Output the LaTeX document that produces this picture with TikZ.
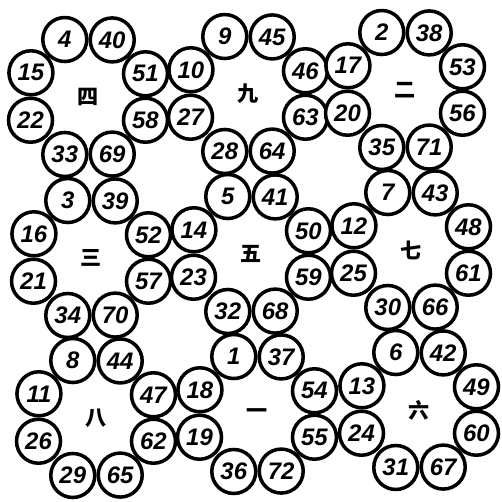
\documentclass[tikz,border=0pt]{standalone}
\usepackage{fontspec}
\newfontfamily\numfont{Liberation Sans}
\newfontfamily\cjkfont{Noto Sans CJK SC}

\begin{document}
\begin{tikzpicture}[
    x=0.05cm, y=-0.05cm,
    ring/.style={circle, minimum size=6.2cm, inner sep=0pt, outer sep=0pt,
        font=\cjkfont\bfseries\fontsize{30}{30}\selectfont},
    disc/.style={circle, draw, line width=5pt, minimum size=2.2cm, inner sep=0pt,
        fill=white, font=\numfont\bfseries\itshape\fontsize{34}{34}\selectfont}
]
    \useasboundingbox (0,0) rectangle (501,502);
    % top row
    \node[ring] (si) at (88,97) {四};
    \node[disc] (n4) at (si.112.5) {4};
    \node[disc] (n40) at (si.67.5) {40};
    \node[disc] (n51) at (si.22.5) {51};
    \node[disc] (n58) at (si.-22.5) {58};
    \node[disc] (n69) at (si.-67.5) {69};
    \node[disc] (n33) at (si.-112.5) {33};
    \node[disc] (n22) at (si.202.5) {22};
    \node[disc] (n15) at (si.157.5) {15};

    \node[ring] (jiu) at (248,94) {九};
    \node[disc] (n9) at (jiu.112.5) {9};
    \node[disc] (n45) at (jiu.67.5) {45};
    \node[disc] (n46) at (jiu.22.5) {46};
    \node[disc] (n63) at (jiu.-22.5) {63};
    \node[disc] (n64) at (jiu.-67.5) {64};
    \node[disc] (n28) at (jiu.-112.5) {28};
    \node[disc] (n27) at (jiu.202.5) {27};
    \node[disc] (n10) at (jiu.157.5) {10};

    \node[ring] (er) at (405,90) {二};
    \node[disc] (n2) at (er.112.5) {2};
    \node[disc] (n38) at (er.67.5) {38};
    \node[disc] (n53) at (er.22.5) {53};
    \node[disc] (n56) at (er.-22.5) {56};
    \node[disc] (n71) at (er.-67.5) {71};
    \node[disc] (n35) at (er.-112.5) {35};
    \node[disc] (n20) at (er.202.5) {20};
    \node[disc] (n17) at (er.157.5) {17};

    % middle row
    \node[ring] (san) at (91,258) {三};
    \node[disc] (n3) at (san.112.5) {3};
    \node[disc] (n39) at (san.67.5) {39};
    \node[disc] (n52) at (san.22.5) {52};
    \node[disc] (n57) at (san.-22.5) {57};
    \node[disc] (n70) at (san.-67.5) {70};
    \node[disc] (n34) at (san.-112.5) {34};
    \node[disc] (n21) at (san.202.5) {21};
    \node[disc] (n16) at (san.157.5) {16};

    \node[ring] (wu) at (251,254) {五};
    \node[disc] (n5) at (wu.112.5) {5};
    \node[disc] (n41) at (wu.67.5) {41};
    \node[disc] (n50) at (wu.22.5) {50};
    \node[disc] (n59) at (wu.-22.5) {59};
    \node[disc] (n68) at (wu.-67.5) {68};
    \node[disc] (n32) at (wu.-112.5) {32};
    \node[disc] (n23) at (wu.202.5) {23};
    \node[disc] (n14) at (wu.157.5) {14};

    \node[ring] (qi) at (411,250) {七};
    \node[disc] (n7) at (qi.112.5) {7};
    \node[disc] (n43) at (qi.67.5) {43};
    \node[disc] (n48) at (qi.22.5) {48};
    \node[disc] (n61) at (qi.-22.5) {61};
    \node[disc] (n66) at (qi.-67.5) {66};
    \node[disc] (n30) at (qi.-112.5) {30};
    \node[disc] (n25) at (qi.202.5) {25};
    \node[disc] (n12) at (qi.157.5) {12};

    % bottom row
    \node[ring] (ba) at (96,418) {八};
    \node[disc] (n8) at (ba.112.5) {8};
    \node[disc] (n44) at (ba.67.5) {44};
    \node[disc] (n47) at (ba.22.5) {47};
    \node[disc] (n62) at (ba.-22.5) {62};
    \node[disc] (n65) at (ba.-67.5) {65};
    \node[disc] (n29) at (ba.-112.5) {29};
    \node[disc] (n26) at (ba.202.5) {26};
    \node[disc] (n11) at (ba.157.5) {11};

    \node[ring] (yi) at (257,414) {一};
    \node[disc] (n1) at (yi.112.5) {1};
    \node[disc] (n37) at (yi.67.5) {37};
    \node[disc] (n54) at (yi.22.5) {54};
    \node[disc] (n55) at (yi.-22.5) {55};
    \node[disc] (n72) at (yi.-67.5) {72};
    \node[disc] (n36) at (yi.-112.5) {36};
    \node[disc] (n19) at (yi.202.5) {19};
    \node[disc] (n18) at (yi.157.5) {18};

    \node[ring] (liu) at (419,410) {六};
    \node[disc] (n6) at (liu.112.5) {6};
    \node[disc] (n42) at (liu.67.5) {42};
    \node[disc] (n49) at (liu.22.5) {49};
    \node[disc] (n60) at (liu.-22.5) {60};
    \node[disc] (n67) at (liu.-67.5) {67};
    \node[disc] (n31) at (liu.-112.5) {31};
    \node[disc] (n24) at (liu.202.5) {24};
    \node[disc] (n13) at (liu.157.5) {13};
\end{tikzpicture}
\end{document}
